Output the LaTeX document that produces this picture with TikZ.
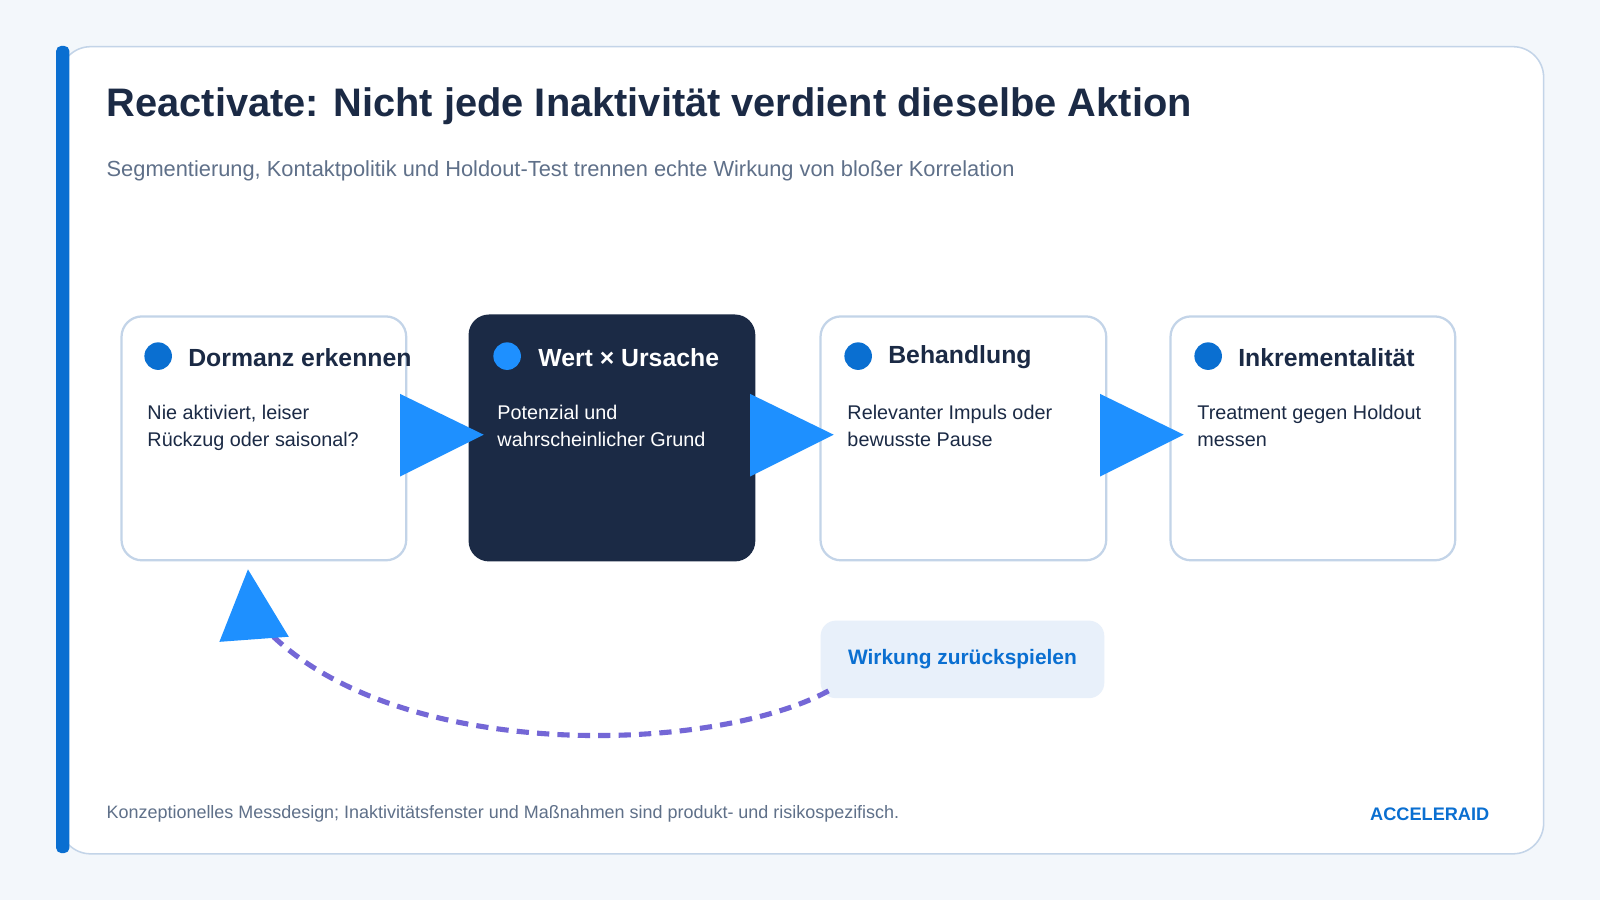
\documentclass[tikz,border=0pt]{standalone}
\usepackage{fontspec}
\setmainfont{Liberation Sans}
\begin{document}
\definecolor{bg}{HTML}{F3F7FB}
\definecolor{brd}{HTML}{C3D4E8}
\definecolor{bar}{HTML}{0A6FD1}
\definecolor{navy}{HTML}{1B2A45}
\definecolor{gry}{HTML}{5F7089}
\definecolor{arr}{HTML}{1E90FF}
\definecolor{purp}{HTML}{7467D6}
\definecolor{lbl}{HTML}{E8F0FA}
\begin{tikzpicture}[x=1pt,y=-1pt,
  box/.style={draw=brd,line width=2.2pt,fill=white,rounded corners=20pt},
  head/.style={anchor=west,font=\fontsize{24.3}{28}\selectfont\bfseries,text=navy},
  body/.style={anchor=north west,align=left,font=\fontsize{19.4}{25.5}\selectfont,text=navy},
  tri/.style={fill=arr}]
\useasboundingbox (0,0) rectangle (1568,882);
\fill[bg] (0,0) rectangle (1568,882);
\node[draw=brd,line width=1.5pt,fill=white,rounded corners=30pt,minimum width=1454pt,minimum height=791pt,anchor=north west] (card) at (58,45) {};
\fill[bar,rounded corners=5pt] (55,45) rectangle (68,836);
\node[anchor=west,font=\fontsize{39}{44}\selectfont\bfseries,text=navy] (title) at (101,104) {Reactivate: Nicht jede Inaktivität verdient dieselbe Aktion};
\node[anchor=west,font=\fontsize{21.4}{24}\selectfont,text=gry] (sub) at (101,167) {Segmentierung, Kontaktpolitik und Holdout-Test trennen echte Wirkung von bloßer Korrelation};
% boxes
\node[box,minimum width=279pt,minimum height=239pt,anchor=north west] (b1) at (118,309) {};
\node[fill=navy,rounded corners=20pt,minimum width=281pt,minimum height=242pt,anchor=north west] (b2) at (459,308) {};
\node[box,minimum width=280pt,minimum height=239pt,anchor=north west] (b3) at (803,309) {};
\node[box,minimum width=279pt,minimum height=239pt,anchor=north west] (b4) at (1146,309) {};
% dots and text
\fill[bar] (155,349) circle (13.5);
\fill[arr] (497,349) circle (13.5);
\fill[bar] (841,349) circle (13.5);
\fill[bar] (1184,349) circle (13.5);
\node[head] (h1) at (181,350) {Dormanz erkennen};
\node[head,text=white] (h2) at (524,350) {Wert × Ursache};
\node[head] (h3) at (867,350) {Behandlung};
\node[head] (h4) at (1210,350) {Inkrementalität};
\node[body] (t1) at (141,394) {Nie aktiviert, leiser\\Rückzug oder saisonal?};
\node[body,text=white] (t2) at (484,394) {Potenzial und\\wahrscheinlicher Grund};
\node[body] (t3) at (827,394) {Relevanter Impuls oder\\bewusste Pause};
\node[body] (t4) at (1170,394) {Treatment gegen Holdout\\messen};
% arrows
\fill[tri] (392,386) -- (474,426) -- (392,467) -- cycle;
\fill[tri] (735,386) -- (817,426) -- (735,467) -- cycle;
\fill[tri] (1078,386) -- (1160,426) -- (1078,467) -- cycle;
% feedback
\node[fill=lbl,rounded corners=15pt,minimum width=278pt,minimum height=76pt,anchor=north west,font=\fontsize{20.5}{24}\selectfont\bfseries,text=bar] (lb) at (804,608) {Wirkung zurückspielen};
\coordinate (cs) at (812,677);
\coordinate (ce) at (268,624);
\draw[purp,line width=5pt,dash pattern=on 12pt off 8pt] (cs) .. controls (700,738) and (400,748) .. (ce);
\fill[tri] (243,558) -- (283,624) -- (215,629) -- cycle;
% footer
\node[anchor=west,font=\fontsize{17.6}{20}\selectfont,text=gry] (foot) at (101,798) {Konzeptionelles Messdesign; Inaktivitätsfenster und Maßnahmen sind produkt- und risikospezifisch.};
\node[anchor=east,font=\fontsize{17.8}{20}\selectfont\bfseries,text=bar] (brand) at (1463,798) {ACCELERAID};
\end{tikzpicture}
\end{document}
